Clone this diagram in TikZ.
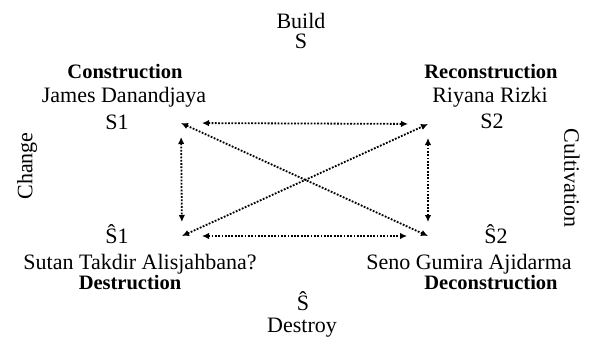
\documentclass[tikz,border=0pt]{standalone}
\usepackage{fontspec}
\setmainfont{Liberation Serif}
\usetikzlibrary{arrows.meta,positioning}

\begin{document}
\begin{tikzpicture}[x=1pt, y=-1pt]
\tikzstyle{plain} = [anchor=base, inner sep=0pt, font=\fontsize{22}{24}\selectfont]
\tikzstyle{concept} = [anchor=base, inner sep=0pt, font=\fontsize{20.5}{22}\selectfont\bfseries]
\tikzstyle{arrow} = [line width=1.8pt, dash pattern=on 1.8pt off 1.5pt, {Latex[length=7pt,width=6.5pt]}-{Latex[length=7pt,width=6.5pt]}]

\useasboundingbox (0,0) rectangle (589,338);

\node [plain] (build) at (301,28) {Build};
\node [plain] (s) at (301,48) {S};
\node [plain] (shat) at (303,310) {Ŝ};
\node [plain] (destroy) at (302,332) {Destroy};

\node [concept] (construction) at (125,78) {Construction};
\node [plain] (james) at (124,102) {James Danandjaya};
\node [plain] (s1) at (117,129) {S1};
\node [concept] (reconstruction) at (491,78) {Reconstruction};
\node [plain] (riyana) at (490,102) {Riyana Rizki};
\node [plain] (s2) at (492,128) {S2};

\node [plain] (s1hat) at (117,243) {Ŝ1};
\node [plain] (sutan) at (140,269) {Sutan Takdir Alisjahbana?};
\node [concept] (destruction) at (130,289) {Destruction};
\node [plain] (s2hat) at (496,243) {Ŝ2};
\node [plain] (seno) at (469,269) {Seno Gumira Ajidarma};
\node [concept] (deconstruction) at (491,289) {Deconstruction};

\node [plain, rotate=90, anchor=center] (change) at (27,166) {Change};
\node [plain, rotate=-90, anchor=center] (cultivation) at (572,178) {Cultivation};

\coordinate (tl) at (181,123);
\coordinate (tr) at (428,124);
\coordinate (bl) at (182,236);
\coordinate (br) at (428,236);

\draw [arrow, shorten <=21pt, shorten >=20pt] (tl) -- (tr);
\draw [arrow, shorten <=20pt, shorten >=21pt] (bl) -- (br);
\draw [arrow, shorten <=14pt, shorten >=14pt] (tl) -- (bl);
\draw [arrow, shorten <=14pt, shorten >=14pt] (tr) -- (br);
\draw [arrow] (tl) -- (br);
\draw [arrow] (bl) -- (tr);
\end{tikzpicture}
\end{document}
